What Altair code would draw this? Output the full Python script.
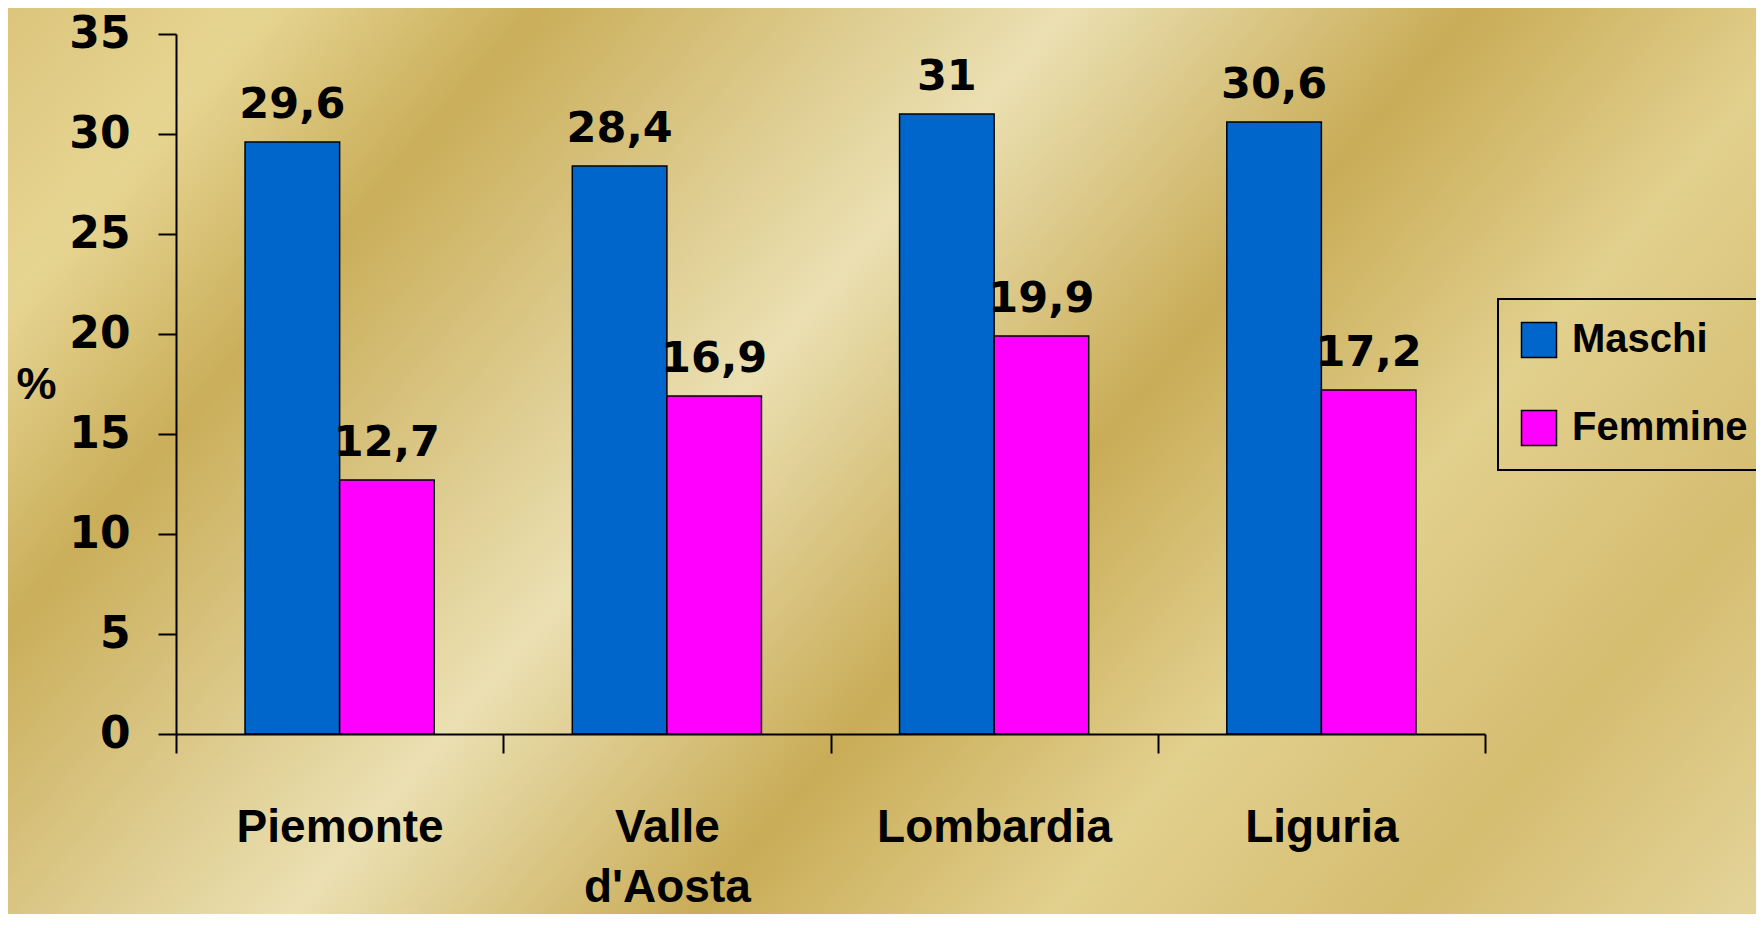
import altair as alt
import pandas as pd

# ---- data ----
regions = ["Piemonte", "Valle d'Aosta", "Lombardia", "Liguria"]
maschi = [29.6, 28.4, 31.0, 30.6]
femmine = [12.7, 16.9, 19.9, 17.2]
series = ["Maschi", "Femmine"]
series_colors = ["#0066CC", "#FF00FF"]
y_ticks = [0, 5, 10, 15, 20, 25, 30, 35]

rows = []
for r, m, f in zip(regions, maschi, femmine):
    rows.append({"regione": r, "sesso": series[0], "valore": m})
    rows.append({"regione": r, "sesso": series[1], "valore": f})
df = pd.DataFrame(rows)

WORD_FONT = "Liberation Sans"
NUM_FONT = "DejaVu Sans"

W, H = 1309, 700
PAD = {"left": 168, "top": 26, "right": 271, "bottom": 180}

x_enc = alt.X(
    "regione:N",
    sort=regions,
    scale=alt.Scale(paddingInner=0, paddingOuter=0),
    axis=alt.Axis(
        title=None, labelAngle=0, tickBand="extent", tickSize=19, tickWidth=2,
        tickColor="black", domainColor="black", domainWidth=2,
        labelFont=WORD_FONT, labelFontWeight="bold", labelFontSize=46,
        labelColor="black", labelPadding=52, labelLineHeight=60, labelLimit=0,
        labelBaseline="top", labelExpr="split(datum.label, ' ')", zindex=1,
        grid=False,
    ),
)
xoff_enc = alt.XOffset(
    "sesso:N", sort=series, scale=alt.Scale(paddingInner=0, paddingOuter=0.73)
)
y_enc = alt.Y(
    "valore:Q",
    scale=alt.Scale(domain=[0, 35], nice=False),
    axis=alt.Axis(
        values=y_ticks, title="%", titleAngle=0, titleX=-140, titleY=350,
        titleAlign="center", titleBaseline="middle", titleFont=WORD_FONT,
        titleFontWeight="bold", titleFontSize=45, titleColor="black",
        labelFont=NUM_FONT, labelFontWeight="bold", labelFontSize=44,
        labelColor="black", labelPadding=28, tickSize=18, tickWidth=2,
        tickColor="black", domainColor="black", domainWidth=2, grid=False,
        zindex=1,
    ),
)

bg = alt.Chart(alt.Data(values=[{"bg": 1}])).mark_rect(
    fill=alt.LinearGradient(
        gradient="linear",
        stops=[
            alt.GradientStop(offset=0.0, color="#dcc57c"),
            alt.GradientStop(offset=0.1, color="#e6d592"),
            alt.GradientStop(offset=0.21, color="#caae5a"),
            alt.GradientStop(offset=0.42, color="#ebe0b2"),
            alt.GradientStop(offset=0.58, color="#c9ac57"),
            alt.GradientStop(offset=0.72, color="#e2d08e"),
            alt.GradientStop(offset=0.86, color="#d5bd70"),
            alt.GradientStop(offset=1.0, color="#e4d49a"),
        ],
        x1=0, y1=0, x2=1.206, y2=0.536,
    )
).encode(
    x=alt.value(-PAD["left"]),
    x2=alt.value(W + PAD["right"]),
    y=alt.value(-PAD["top"]),
    y2=alt.value(H + PAD["bottom"]),
)

bars = alt.Chart(df).mark_bar(stroke="black", strokeWidth=1.5, opacity=1).encode(
    x=x_enc,
    xOffset=xoff_enc,
    y=y_enc,
    color=alt.Color(
        "sesso:N",
        sort=series,
        scale=alt.Scale(domain=series, range=series_colors),
        legend=alt.Legend(
            title=None, orient="none", legendX=1322, legendY=265,
            symbolType="square", symbolSize=1225, symbolStrokeColor="black",
            symbolStrokeWidth=1.5, symbolOpacity=1,
            labelFont=WORD_FONT, labelFontWeight="bold", labelFontSize=40,
            labelColor="black", labelOffset=13, labelLimit=0, rowPadding=46,
            padding=21, strokeColor="black", zindex=1,
        ),
    ),
)

labels = alt.Chart(df).transform_calculate(
    etichetta="replace(toString(datum.valore), '.', ',')"
).mark_text(
    font=NUM_FONT, fontWeight="bold", fontSize=43, color="black",
    baseline="alphabetic", dy=-24
).encode(
    x=alt.X("regione:N", sort=regions),
    xOffset=alt.XOffset("sesso:N", sort=series),
    y=alt.Y("valore:Q"),
    text="etichetta:N",
)

chart = alt.layer(bg, bars, labels).properties(
    width=W, height=H,
    autosize=alt.AutoSizeParams(type="none"),
    padding=PAD,
    background="#d8c27a",
).configure_view(stroke=None).configure_legend(strokeWidth=2)

chart.save("out.html", embed_options={"renderer": "svg", "actions": False})
